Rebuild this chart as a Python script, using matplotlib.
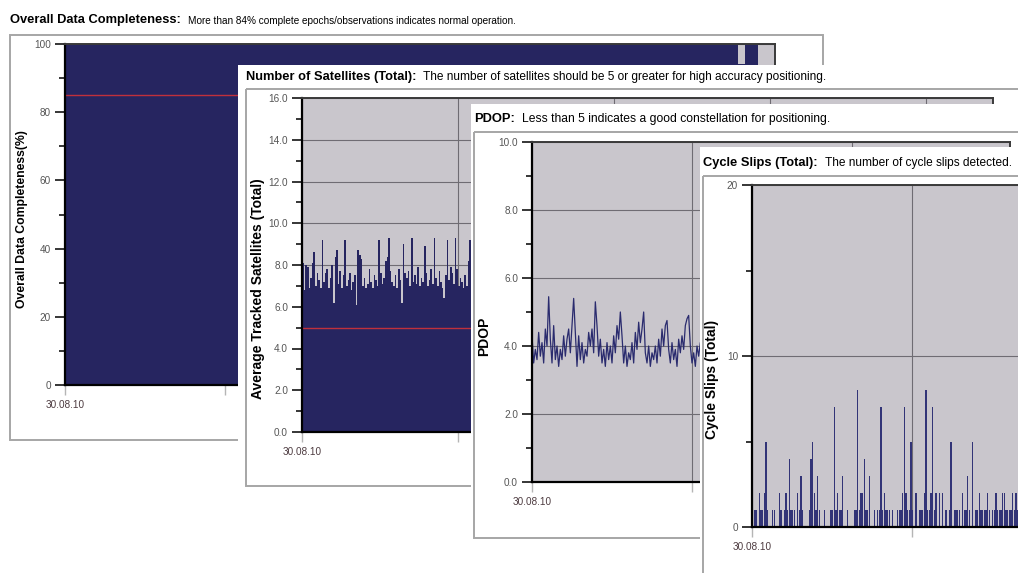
import matplotlib.pyplot as plt
from matplotlib.patches import Rectangle
from matplotlib.ticker import MultipleLocator, FormatStrFormatter

plt.rcParams['font.family'] = ['Liberation Sans', 'DejaVu Sans']

# time axis is in days from 30.08.10
HOUR = 1 / 24
QUARTER = 1 / 96

# hourly completeness in %, one short hour near the end
completeness = [100.0] * 101 + [94.0] + [100.0] * 2
completeness_limit = 85

# average tracked satellites, 15 min values (visible part)
satellites = [8.1, 6.8, 8.0, 7.9, 6.9, 7.4, 8.1, 8.6, 7.0, 7.6,
              7.3, 6.9, 9.2, 7.2, 7.6, 7.8, 6.9, 7.4, 8.0, 6.2,
              8.4, 8.7, 7.1, 7.7, 6.9, 7.5, 9.2, 7.0, 7.3, 7.6,
              6.8, 7.2, 7.5, 6.1, 8.7, 8.5, 8.3, 7.0, 7.4, 6.9,
              7.1, 7.8, 7.2, 6.9, 7.5, 7.3, 7.0, 9.2, 7.6, 7.1,
              7.4, 8.2, 8.4, 9.3, 7.7, 7.2, 7.0, 7.5, 6.9, 7.8,
              7.3, 6.2, 9.0, 7.6, 7.4, 7.7, 7.0, 9.3, 7.2, 7.5,
              7.1, 7.9, 7.0, 7.4, 7.2, 8.9, 7.6, 7.0, 7.3, 7.8,
              7.1, 9.3, 7.4, 7.0, 7.7, 7.2, 6.9, 6.4, 7.5, 9.2,
              7.3, 7.9, 7.6, 7.1, 9.3, 7.8, 7.0, 7.4, 7.2, 6.9,
              7.5, 7.0, 8.2, 9.2, 7.3, 7.0]
satellite_limit = 5.0

# PDOP, 15 min values (visible part)
pdop = [4.3, 3.5, 3.9, 3.6, 4.4, 3.7, 4.1, 3.5, 4.5, 4.0,
        5.45, 4.2, 3.5, 4.6, 3.6, 4.0, 3.4, 3.9, 3.6, 4.3,
        3.7, 4.2, 4.5, 3.8, 4.6, 5.4, 4.4, 3.4, 4.3, 3.6,
        4.1, 3.5, 3.9, 3.7, 4.4, 4.0, 4.5, 3.8, 5.3, 4.6,
        3.7, 4.2, 3.5, 3.9, 3.4, 4.1, 3.6, 4.0, 3.5, 4.3,
        3.8, 4.6, 4.2, 5.0, 4.3, 3.5, 4.0, 3.4, 3.8, 3.6,
        4.1, 3.5, 4.4, 3.9, 4.7, 4.1, 4.5, 5.0, 3.8, 3.5,
        4.0, 3.4, 3.8, 3.6, 4.0, 3.5, 4.2, 3.7, 4.5, 4.0,
        4.6, 4.75, 3.9, 3.5, 4.1, 3.6, 3.9, 3.4, 4.2, 3.8,
        4.3, 3.9, 4.6, 4.8, 4.9, 4.0, 3.5, 3.8, 3.4, 4.0,
        3.7, 4.1, 3.6]

# cycle slips per 15 min (visible part)
cycle_slips = [3, 1, 1, 0, 2, 1, 1, 2, 5, 1,
               0, 0, 1, 1, 0, 0, 2, 1, 0, 1,
               2, 1, 4, 1, 1, 1, 0, 2, 1, 3,
               1, 0, 0, 0, 1, 4, 5, 2, 1, 3,
               1, 0, 0, 1, 0, 0, 0, 1, 1, 7,
               1, 2, 1, 1, 3, 0, 0, 1, 0, 0,
               0, 1, 1, 8, 1, 2, 2, 4, 1, 1,
               3, 0, 0, 1, 0, 1, 1, 7, 1, 2,
               1, 1, 1, 0, 1, 0, 0, 1, 1, 1,
               2, 7, 2, 1, 1, 5, 1, 0, 2, 0,
               1, 1, 1, 2, 8, 1, 1, 2, 7, 1,
               2, 0, 2, 0, 2, 0, 1, 0, 1, 5,
               0, 1, 1, 1, 1, 0, 2, 1, 1, 3,
               1, 0, 5, 0, 1, 1, 2, 1, 1, 1,
               1, 2, 1, 0, 1, 1, 2, 1, 1, 1,
               2, 2, 1, 1, 1, 1, 2, 1, 2, 1]

date_labels = ['30.08.10', '', '', '', '']

NAVY = '#262560'
PLOT_BG = '#c9c6cc'
GRID = '#6f6c73'
RED = '#c0303c'

W, H = 1018, 573
fig = plt.figure(figsize=(W / 100, H / 100), dpi=100)


def box(x0, y0, x1, y1):
    # pixel box (top-left origin) -> figure fraction
    return [x0 / W, 1 - y1 / H, (x1 - x0) / W, (y1 - y0) / H]


def make_panel(z, white, frame, bold, text, text_size, base, ylabel, lab_xy, lab_size):
    bg = fig.add_axes(box(*white))
    bg.set_zorder(z)
    bg.set_xlim(white[0], white[2])
    bg.set_ylim(white[3], white[1])
    bg.set_xticks([])
    bg.set_yticks([])
    for sp in bg.spines.values():
        sp.set_visible(False)
    bg.add_patch(Rectangle((frame[0], frame[1]), frame[2] - frame[0], frame[3] - frame[1],
                           fill=False, ec='#a6a6a6', lw=1.4))
    t = bg.text(frame[0], base, bold, fontsize=9.3, fontweight='bold', va='baseline')
    bg.annotate(text, xy=(1, 0), xycoords=t, xytext=(5, 0), textcoords='offset points',
                fontsize=text_size, va='bottom')
    bg.text(lab_xy[0], lab_xy[1], ylabel, rotation=90, ha='center', va='center',
            fontsize=lab_size, fontweight='bold')
    return bg


def make_axes(z, pos, xmax, ymax, major, minor, fmt, ntick):
    ax = fig.add_axes(box(*pos))
    ax.set_zorder(z)
    ax.set_facecolor(PLOT_BG)
    ax.set_xlim(0, xmax)
    ax.set_ylim(0, ymax)
    ax.yaxis.set_major_locator(MultipleLocator(major))
    ax.yaxis.set_minor_locator(MultipleLocator(minor))
    ax.yaxis.set_major_formatter(FormatStrFormatter(fmt))
    ax.set_xticks(range(ntick))
    ax.set_xticklabels(date_labels[:ntick])
    ax.grid(True, color=GRID, lw=0.8)
    ax.set_axisbelow(True)
    ax.tick_params(axis='y', which='major', direction='out', length=7, width=1.1,
                   color='black', labelsize=7.2, labelcolor='#555555', pad=3)
    ax.tick_params(axis='y', which='minor', direction='out', length=4, width=1.1, color='black')
    ax.tick_params(axis='x', direction='out', length=7, width=1, color='#b5b5b5',
                   labelsize=7.2, labelcolor='#4d3b40', pad=4)
    ax.xaxis.get_major_ticks()[0].tick1line.set_color('black')
    for side in ('left', 'bottom'):
        ax.spines[side].set(color='black', lw=1.6)
    for side in ('top', 'right'):
        ax.spines[side].set(color='#3a3a3a', lw=1.4)
    return ax


# 1: overall data completeness
make_panel(10, (0, 0, W, H), (10, 35, 823, 440), 'Overall Data Completeness:',
           'More than 84% complete epochs/observations indicates normal operation.', 7.2, 23,
           'Overall Data Completeness(%)', (22, 219), 8.8)
ax1 = make_axes(11, (65, 44, 775, 385), 4.4375, 100, 20, 10, '%d', 5)
ax1.bar([i * HOUR for i in range(len(completeness))], completeness, width=HOUR,
        align='edge', color=NAVY, linewidth=0, antialiased=False)
ax1.axhline(completeness_limit, color=RED, lw=1)

# 2: number of satellites
make_panel(20, (238, 65, W, 488), (246, 89, 1040, 486), 'Number of Satellites (Total):',
           'The number of satellites should be 5 or greater for high accuracy positioning.', 8.6, 80,
           'Average Tracked Satellites (Total)', (258, 289), 10)
ax2 = make_axes(21, (302, 98, 993, 432), 691 / 156, 16, 2, 1, '%.1f', 5)
ax2.bar([i * QUARTER for i in range(len(satellites))], satellites, width=QUARTER,
        align='edge', color=NAVY, linewidth=0, antialiased=False)
ax2.axhline(satellite_limit, color=RED, lw=1)

# 3: PDOP
make_panel(30, (471, 104, W, 540), (474, 132, 1040, 538), 'PDOP:',
           'Less than 5 indicates a good constellation for positioning.', 8.7, 122,
           'PDOP', (484, 336), 10)
ax3 = make_axes(31, (532, 142, 1010, 482), 478 / 160, 10, 2, 1, '%.1f', 3)
ax3.plot([i * QUARTER for i in range(len(pdop))], pdop, color='#2a2b6e', lw=0.9)

# 4: cycle slips
make_panel(40, (700, 147, W, H), (703, 176, 1040, 600), 'Cycle Slips (Total):',
           'The number of cycle slips detected.', 8.6, 166,
           'Cycle Slips (Total)', (712, 379), 10)
ax4 = make_axes(41, (752, 185, 1072, 527), 2.0, 20, 10, 5, '%d', 3)
ax4.bar([i * QUARTER for i in range(len(cycle_slips))], cycle_slips, width=0.85 * QUARTER,
        align='edge', color='#323477', linewidth=0)

fig.savefig('out.png', dpi=100)
